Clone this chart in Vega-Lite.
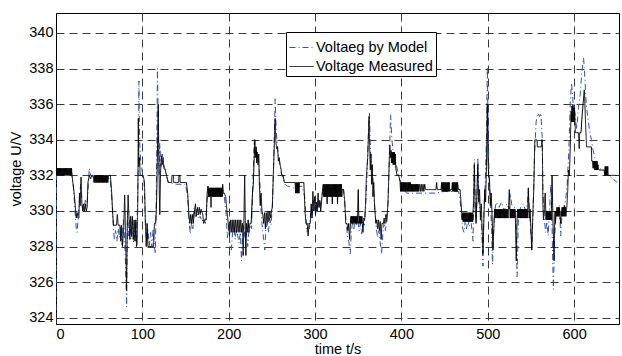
{
  "$schema": "https://vega.github.io/schema/vega-lite/v6.json",
  "width": 563,
  "height": 311,
  "autosize": {"type": "none"},
  "padding": {"left": 56, "top": 13, "right": 3, "bottom": 32},
  "background": "white",
  "config": {
    "font": "Liberation Sans",
    "view": {"stroke": "black", "strokeWidth": 1},
    "axis": {
      "labelFont": "Liberation Sans", "labelFontSize": 14.5, "labelColor": "black",
      "titleFont": "Liberation Sans", "titleFontSize": 14.5, "titleFontWeight": "normal", "titleColor": "black",
      "domainColor": "black", "grid": true, "gridColor": "#3a3a3a", "gridDash": [8, 5], "gridWidth": 1,
      "ticks": false, "labelPadding": 3
    },
    "legend": {
      "orient": "none", "legendX": 230, "legendY": 19, "padding": 3,
      "strokeColor": "black", "fillColor": "white",
      "symbolType": "stroke", "symbolSize": 576, "symbolStrokeWidth": 1,
      "labelFont": "Liberation Sans", "labelFontSize": 14.5, "labelColor": "black",
      "labelOffset": 2, "rowPadding": -3
    }
  },
  "datasets": {
    "model": [
      {"t":0,"v":323.7},{"t":0.6,"v":332.4},{"t":5,"v":332.3},{"t":10,"v":332.3},{"t":15,"v":332.2},{"t":18,"v":332.1},{"t":20,"v":331.5},{"t":22,"v":330.0},{"t":23.5,"v":329.0},{"t":24.5,"v":328.8},{"t":25.5,"v":329.5},{"t":27,"v":330.4},{"t":28.5,"v":331.5},{"t":30,"v":330.4},{"t":32,"v":330.0},{"t":34,"v":330.6},{"t":36,"v":330.3},{"t":37.5,"v":331.5},{"t":38.5,"v":332.4},{"t":40,"v":332.0},{"t":43,"v":331.9},{"t":50,"v":331.8},{"t":55,"v":331.8},{"t":60,"v":331.9},{"t":63,"v":331.7},{"t":64.5,"v":330.8},{"t":66,"v":329.5},{"t":67.5,"v":328.4},{"t":69,"v":328.9},{"t":70.5,"v":328.3},{"t":72,"v":329.0},{"t":73.5,"v":328.5},{"t":75,"v":329.2},{"t":76.5,"v":328.1},{"t":78,"v":329.5},{"t":79.5,"v":328.4},{"t":80.5,"v":327.0},{"t":81.8,"v":324.6},{"t":82.8,"v":330.0},{"t":84,"v":328.6},{"t":85.5,"v":329.5},{"t":87,"v":328.4},{"t":88.5,"v":329.4},{"t":90,"v":328.2},{"t":91.5,"v":329.3},{"t":93,"v":328.2},{"t":94.5,"v":330.5},{"t":95.5,"v":333.0},{"t":96,"v":337.3},{"t":96.8,"v":334.0},{"t":98,"v":332.8},{"t":100,"v":332.2},{"t":102,"v":331.6},{"t":103.5,"v":329.5},{"t":105,"v":328.3},{"t":106.5,"v":329.0},{"t":108,"v":328.0},{"t":109.5,"v":328.8},{"t":111,"v":328.0},{"t":112.5,"v":329.0},{"t":114,"v":328.0},{"t":115,"v":327.6},{"t":116.2,"v":331.0},{"t":117.5,"v":338.0},{"t":118.5,"v":335.0},{"t":119.3,"v":332.0},{"t":120.2,"v":333.8},{"t":121.5,"v":332.5},{"t":123,"v":333.2},{"t":124.5,"v":332.6},{"t":126,"v":332.4},{"t":128,"v":332.0},{"t":130,"v":331.6},{"t":140,"v":331.5},{"t":150,"v":331.5},{"t":152.5,"v":330.8},{"t":154,"v":329.5},{"t":155.5,"v":328.7},{"t":157,"v":329.4},{"t":158.5,"v":329.0},{"t":160,"v":330.2},{"t":161.5,"v":329.6},{"t":163,"v":330.1},{"t":165,"v":329.6},{"t":167,"v":329.7},{"t":169,"v":329.4},{"t":171,"v":329.6},{"t":173,"v":329.3},{"t":175,"v":330.6},{"t":176.5,"v":331.2},{"t":180,"v":331.0},{"t":185,"v":331.1},{"t":190,"v":331.0},{"t":193,"v":331.2},{"t":195,"v":330.8},{"t":197,"v":329.8},{"t":198.5,"v":328.5},{"t":200,"v":329.2},{"t":201.5,"v":328.0},{"t":203,"v":327.8},{"t":204.5,"v":328.8},{"t":206,"v":329.1},{"t":207.5,"v":328.4},{"t":209,"v":329.0},{"t":210.5,"v":328.6},{"t":212,"v":328.2},{"t":213.5,"v":328.8},{"t":214.8,"v":327.2},{"t":216,"v":328.5},{"t":217.5,"v":329.2},{"t":219,"v":328.4},{"t":220.5,"v":328.8},{"t":222,"v":328.0},{"t":223.5,"v":328.9},{"t":225,"v":329.2},{"t":226.5,"v":329.0},{"t":228,"v":331.5},{"t":229.5,"v":334.0},{"t":230.5,"v":333.2},{"t":231.5,"v":333.6},{"t":233,"v":332.8},{"t":234.5,"v":333.0},{"t":236,"v":331.8},{"t":237.5,"v":330.0},{"t":239,"v":329.0},{"t":240.5,"v":328.4},{"t":241.8,"v":327.8},{"t":243,"v":329.0},{"t":244.5,"v":329.3},{"t":246,"v":328.8},{"t":247.5,"v":329.6},{"t":249,"v":329.2},{"t":250.5,"v":330.2},{"t":252,"v":332.5},{"t":253.8,"v":336.3},{"t":255,"v":334.5},{"t":256.5,"v":333.6},{"t":258,"v":333.0},{"t":259.5,"v":332.5},{"t":261,"v":332.1},{"t":263,"v":331.8},{"t":265,"v":331.5},{"t":268,"v":331.4},{"t":275,"v":331.3},{"t":285,"v":331.4},{"t":288,"v":330.8},{"t":289.5,"v":329.6},{"t":290.7,"v":328.8},{"t":292,"v":329.3},{"t":293.5,"v":329.0},{"t":295,"v":329.9},{"t":296.5,"v":329.6},{"t":298,"v":330.6},{"t":299.5,"v":330.0},{"t":301,"v":330.5},{"t":302.5,"v":329.9},{"t":304,"v":330.6},{"t":305.5,"v":330.2},{"t":307,"v":330.6},{"t":308.5,"v":331.0},{"t":310,"v":331.3},{"t":320,"v":331.3},{"t":333,"v":331.2},{"t":334.5,"v":330.3},{"t":336,"v":329.4},{"t":337.5,"v":328.6},{"t":339,"v":328.3},{"t":340.8,"v":327.6},{"t":342,"v":328.8},{"t":343.5,"v":329.4},{"t":345,"v":329.0},{"t":346.5,"v":329.6},{"t":348,"v":329.2},{"t":349.5,"v":329.5},{"t":351,"v":328.9},{"t":352.5,"v":329.3},{"t":354,"v":328.7},{"t":355.5,"v":329.4},{"t":357,"v":329.2},{"t":358.5,"v":330.2},{"t":360,"v":331.8},{"t":361.5,"v":334.0},{"t":363,"v":335.5},{"t":364,"v":333.5},{"t":365,"v":332.6},{"t":366.5,"v":332.2},{"t":368,"v":331.0},{"t":369.5,"v":330.0},{"t":371,"v":329.0},{"t":372.5,"v":328.5},{"t":374,"v":328.9},{"t":375.5,"v":328.2},{"t":377,"v":327.6},{"t":378.5,"v":328.7},{"t":380,"v":329.4},{"t":381.5,"v":328.9},{"t":383,"v":329.6},{"t":384.5,"v":330.4},{"t":386,"v":333.0},{"t":387.5,"v":335.4},{"t":389,"v":334.0},{"t":390.5,"v":333.3},{"t":392,"v":333.0},{"t":394,"v":332.6},{"t":396,"v":332.2},{"t":398,"v":331.8},{"t":400,"v":331.5},{"t":403,"v":331.2},{"t":406,"v":331.0},{"t":420,"v":331.0},{"t":440,"v":331.0},{"t":450,"v":331.1},{"t":466,"v":331.1},{"t":468,"v":330.6},{"t":469.5,"v":329.8},{"t":471,"v":329.0},{"t":472.5,"v":328.8},{"t":474,"v":329.5},{"t":475.5,"v":329.0},{"t":477,"v":329.6},{"t":478.5,"v":329.1},{"t":480,"v":329.7},{"t":481.5,"v":329.0},{"t":483,"v":328.3},{"t":484.5,"v":332.9},{"t":485.5,"v":330.2},{"t":487,"v":329.6},{"t":488.5,"v":333.0},{"t":490,"v":330.4},{"t":491.5,"v":330.0},{"t":493,"v":329.0},{"t":494.5,"v":326.9},{"t":495.5,"v":330.0},{"t":497,"v":331.5},{"t":498.5,"v":334.0},{"t":499.5,"v":338.1},{"t":500.5,"v":334.5},{"t":501.5,"v":332.0},{"t":503,"v":330.5},{"t":504.5,"v":329.0},{"t":505.5,"v":327.0},{"t":506.5,"v":328.5},{"t":508,"v":330.0},{"t":510,"v":330.5},{"t":513,"v":330.2},{"t":516,"v":330.5},{"t":519,"v":330.0},{"t":522,"v":330.4},{"t":525,"v":330.1},{"t":526,"v":331.0},{"t":528,"v":330.3},{"t":531,"v":330.2},{"t":532.5,"v":329.5},{"t":534,"v":326.3},{"t":535.5,"v":329.6},{"t":538,"v":330.2},{"t":541,"v":330.4},{"t":544,"v":330.0},{"t":546,"v":330.4},{"t":547,"v":331.2},{"t":549,"v":329.5},{"t":551,"v":327.9},{"t":552.5,"v":330.0},{"t":554,"v":333.0},{"t":556,"v":335.0},{"t":558,"v":335.5},{"t":560,"v":335.3},{"t":561.5,"v":335.5},{"t":563,"v":334.2},{"t":564,"v":331.0},{"t":565.5,"v":329.6},{"t":567,"v":328.8},{"t":568.5,"v":329.4},{"t":570,"v":328.6},{"t":571.5,"v":330.0},{"t":573,"v":331.5},{"t":574.5,"v":329.0},{"t":576,"v":325.6},{"t":577.5,"v":328.5},{"t":579,"v":330.0},{"t":581,"v":329.8},{"t":583,"v":330.3},{"t":584.5,"v":328.6},{"t":586,"v":329.8},{"t":588,"v":330.2},{"t":590,"v":330.5},{"t":592,"v":331.5},{"t":594,"v":333.5},{"t":595.5,"v":336.0},{"t":597,"v":337.2},{"t":599,"v":336.0},{"t":601,"v":335.5},{"t":603,"v":334.6},{"t":605,"v":335.8},{"t":607,"v":336.5},{"t":609,"v":337.8},{"t":611,"v":338.6},{"t":612.5,"v":337.5},{"t":614,"v":336.0},{"t":616,"v":335.2},{"t":618,"v":334.5},{"t":620,"v":334.0},{"t":622,"v":333.4},{"t":624,"v":333.0},{"t":627,"v":332.6},{"t":630,"v":332.4},{"t":635,"v":332.2},{"t":640,"v":332.0},{"t":645,"v":331.8},{"t":650,"v":331.6}
    ],
    "measured": [
      {"t":0,"v":332.4},{"t":0.5,"v":332.0},{"t":1,"v":332.4},{"t":1.5,"v":332.0},{"t":2,"v":332.4},{"t":2.5,"v":332.0},{"t":3,"v":332.4},{"t":3.5,"v":332.0},{"t":4,"v":332.4},{"t":4.5,"v":332.0},{"t":5,"v":332.4},{"t":5.5,"v":332.0},{"t":6,"v":332.4},{"t":6.5,"v":332.0},{"t":7,"v":332.4},{"t":7.5,"v":332.0},{"t":8,"v":332.4},{"t":8.5,"v":332.0},{"t":9,"v":332.4},{"t":9.5,"v":332.0},{"t":10,"v":332.4},{"t":10.5,"v":332.0},{"t":11,"v":332.4},{"t":11.5,"v":332.0},{"t":12,"v":332.4},{"t":12.5,"v":332.0},{"t":13,"v":332.4},{"t":13.5,"v":332.0},{"t":14,"v":332.4},{"t":14.5,"v":332.0},{"t":15,"v":332.4},{"t":15.5,"v":332.0},{"t":16,"v":332.4},{"t":16.5,"v":332.0},{"t":17,"v":332.4},{"t":17.5,"v":332.0},{"t":18,"v":332.4},{"t":18.6,"v":332.0},{"t":19.5,"v":331.6},{"t":21,"v":331.0},{"t":22.5,"v":330.2},{"t":23.5,"v":329.6},{"t":24.5,"v":329.9},{"t":25.5,"v":329.6},{"t":26.5,"v":329.6},{"t":27.2,"v":331.0},{"t":28,"v":330.3},{"t":29,"v":331.9},{"t":30,"v":330.4},{"t":31,"v":330.0},{"t":32,"v":330.4},{"t":33,"v":330.0},{"t":34,"v":330.4},{"t":35,"v":330.0},{"t":36,"v":330.2},{"t":37,"v":331.6},{"t":38.5,"v":332.0},{"t":40,"v":331.8},{"t":41.5,"v":332.0},{"t":43,"v":332.0},{"t":44,"v":331.6},{"t":44.5,"v":332.0},{"t":45,"v":331.6},{"t":45.5,"v":332.0},{"t":46,"v":331.6},{"t":46.5,"v":332.0},{"t":47,"v":331.6},{"t":47.5,"v":332.0},{"t":48,"v":331.6},{"t":48.5,"v":332.0},{"t":49,"v":331.6},{"t":49.5,"v":332.0},{"t":50,"v":331.6},{"t":50.5,"v":332.0},{"t":51,"v":331.6},{"t":51.5,"v":332.0},{"t":52,"v":331.6},{"t":52.5,"v":332.0},{"t":53,"v":331.6},{"t":53.5,"v":332.0},{"t":54,"v":331.6},{"t":54.5,"v":332.0},{"t":55,"v":331.6},{"t":55.5,"v":332.0},{"t":56,"v":331.6},{"t":56.5,"v":332.0},{"t":57,"v":331.6},{"t":57.5,"v":332.0},{"t":58,"v":331.6},{"t":58.5,"v":332.0},{"t":59,"v":331.6},{"t":59.5,"v":332.0},{"t":60,"v":331.6},{"t":61,"v":332.0},{"t":63,"v":332.0},{"t":64.5,"v":331.0},{"t":65.5,"v":330.0},{"t":66.5,"v":329.2},{"t":70,"v":329.2},{"t":71,"v":329.8},{"t":72,"v":329.2},{"t":74,"v":329.2},{"t":75,"v":328.3},{"t":76,"v":329.2},{"t":77,"v":328.0},{"t":78.4,"v":329.0},{"t":79.5,"v":330.9},{"t":80.5,"v":329.0},{"t":81.7,"v":325.5},{"t":82.6,"v":329.2},{"t":83.5,"v":330.9},{"t":84.5,"v":329.7},{"t":85.5,"v":328.4},{"t":86.5,"v":329.7},{"t":87.5,"v":328.6},{"t":88.5,"v":329.7},{"t":89.5,"v":328.4},{"t":90.5,"v":329.5},{"t":91.5,"v":328.3},{"t":92.5,"v":329.5},{"t":93.3,"v":328.0},{"t":94,"v":328.2},{"t":94.8,"v":331.0},{"t":95.3,"v":335.2},{"t":96,"v":332.5},{"t":96.8,"v":333.0},{"t":97.5,"v":332.0},{"t":101,"v":332.0},{"t":102.5,"v":331.6},{"t":103.5,"v":329.3},{"t":104.5,"v":328.0},{"t":105.5,"v":329.3},{"t":106.5,"v":328.0},{"t":113,"v":328.0},{"t":114,"v":329.3},{"t":115.5,"v":329.3},{"t":116.5,"v":330.5},{"t":118.4,"v":336.0},{"t":119,"v":333.5},{"t":119.6,"v":331.2},{"t":120.2,"v":329.8},{"t":121,"v":332.0},{"t":122,"v":333.1},{"t":123,"v":332.6},{"t":124,"v":333.0},{"t":125,"v":332.4},{"t":126.5,"v":332.3},{"t":128,"v":332.0},{"t":130,"v":331.6},{"t":134,"v":331.6},{"t":134.3,"v":332.0},{"t":136,"v":332.0},{"t":136.3,"v":331.6},{"t":142,"v":331.6},{"t":142.3,"v":332.0},{"t":143.5,"v":332.0},{"t":143.8,"v":331.6},{"t":151,"v":331.6},{"t":152.5,"v":331.0},{"t":154,"v":329.7},{"t":155,"v":329.3},{"t":156,"v":329.8},{"t":157,"v":329.3},{"t":158,"v":329.8},{"t":159,"v":329.3},{"t":160,"v":329.8},{"t":161.5,"v":330.4},{"t":162.5,"v":329.7},{"t":164,"v":330.2},{"t":165,"v":329.8},{"t":166,"v":330.2},{"t":167,"v":329.8},{"t":168,"v":330.1},{"t":170,"v":329.8},{"t":171,"v":329.3},{"t":172.5,"v":329.5},{"t":174,"v":329.5},{"t":175,"v":331.0},{"t":176,"v":331.4},{"t":176.5,"v":330.8},{"t":177,"v":331.3},{"t":177.5,"v":330.8},{"t":178,"v":331.3},{"t":178.5,"v":330.8},{"t":179,"v":331.3},{"t":179.5,"v":330.2},{"t":180,"v":331.3},{"t":180.5,"v":330.8},{"t":181,"v":331.3},{"t":181.5,"v":330.8},{"t":182,"v":331.3},{"t":182.5,"v":330.8},{"t":183,"v":331.3},{"t":183.5,"v":330.8},{"t":184,"v":331.3},{"t":184.5,"v":330.8},{"t":185,"v":331.3},{"t":185.5,"v":330.8},{"t":186,"v":331.3},{"t":186.5,"v":330.8},{"t":187,"v":331.3},{"t":187.5,"v":330.8},{"t":188,"v":331.3},{"t":188.5,"v":330.8},{"t":189,"v":331.3},{"t":189.5,"v":330.8},{"t":190,"v":331.3},{"t":190.5,"v":330.8},{"t":191,"v":331.3},{"t":191.5,"v":330.8},{"t":192,"v":331.3},{"t":192.5,"v":330.8},{"t":193,"v":331.5},{"t":194,"v":331.0},{"t":195,"v":331.0},{"t":196.5,"v":330.8},{"t":198,"v":330.0},{"t":199.5,"v":329.3},{"t":201,"v":328.6},{"t":202,"v":329.5},{"t":203,"v":328.8},{"t":204,"v":329.5},{"t":205,"v":328.8},{"t":206,"v":329.5},{"t":207,"v":328.8},{"t":208,"v":329.5},{"t":209,"v":328.8},{"t":210,"v":329.5},{"t":211,"v":328.8},{"t":212,"v":329.5},{"t":213,"v":328.8},{"t":214,"v":329.5},{"t":215,"v":328.8},{"t":216,"v":329.3},{"t":216.8,"v":327.5},{"t":217.5,"v":329.3},{"t":218.5,"v":332.0},{"t":219.3,"v":328.8},{"t":219.9,"v":327.5},{"t":220.6,"v":329.3},{"t":221.5,"v":328.8},{"t":222.5,"v":329.5},{"t":223.5,"v":328.8},{"t":224.5,"v":329.3},{"t":226,"v":329.3},{"t":227.5,"v":331.0},{"t":228.5,"v":331.5},{"t":230.3,"v":334.0},{"t":231,"v":333.0},{"t":231.8,"v":333.6},{"t":232.5,"v":332.7},{"t":233.3,"v":333.3},{"t":234,"v":332.6},{"t":234.8,"v":333.2},{"t":235.5,"v":331.5},{"t":236.5,"v":330.3},{"t":237.5,"v":331.0},{"t":238.5,"v":330.0},{"t":239.5,"v":329.8},{"t":240.5,"v":329.3},{"t":241.5,"v":329.9},{"t":242.5,"v":329.0},{"t":243.5,"v":329.9},{"t":244.5,"v":329.3},{"t":245.5,"v":330.0},{"t":246.5,"v":329.4},{"t":247.5,"v":330.0},{"t":248.5,"v":329.6},{"t":249.5,"v":330.0},{"t":250.5,"v":330.2},{"t":252,"v":332.5},{"t":253.8,"v":335.2},{"t":254.5,"v":334.0},{"t":255.5,"v":333.5},{"t":256.5,"v":333.6},{"t":257.5,"v":332.8},{"t":258.5,"v":333.0},{"t":259.5,"v":332.6},{"t":260.5,"v":332.4},{"t":261.5,"v":332.0},{"t":263,"v":332.0},{"t":264.5,"v":331.6},{"t":277,"v":331.6},{"t":277.5,"v":331.0},{"t":278,"v":331.6},{"t":278.5,"v":331.0},{"t":279,"v":331.6},{"t":279.5,"v":331.0},{"t":280,"v":331.6},{"t":280.5,"v":331.0},{"t":281,"v":331.6},{"t":281.5,"v":331.0},{"t":282,"v":331.6},{"t":287,"v":331.6},{"t":288.5,"v":329.9},{"t":289.5,"v":329.3},{"t":291,"v":329.3},{"t":292,"v":328.6},{"t":293,"v":329.3},{"t":294.5,"v":329.3},{"t":295.5,"v":330.4},{"t":296.5,"v":329.6},{"t":297.5,"v":331.1},{"t":298.5,"v":330.0},{"t":299.5,"v":330.8},{"t":300.5,"v":329.8},{"t":301.5,"v":330.5},{"t":302.5,"v":330.0},{"t":303.5,"v":331.0},{"t":304.5,"v":330.2},{"t":305.5,"v":330.6},{"t":306.5,"v":330.0},{"t":307.5,"v":330.5},{"t":308.5,"v":331.1},{"t":309.5,"v":331.5},{"t":310,"v":330.8},{"t":310.5,"v":331.5},{"t":311,"v":330.8},{"t":311.5,"v":331.5},{"t":312,"v":330.8},{"t":312.5,"v":331.5},{"t":313,"v":330.8},{"t":313.5,"v":331.5},{"t":314,"v":330.4},{"t":314.5,"v":331.5},{"t":315,"v":330.8},{"t":315.5,"v":331.5},{"t":316,"v":330.8},{"t":316.5,"v":331.5},{"t":317,"v":330.8},{"t":317.5,"v":331.5},{"t":318,"v":330.8},{"t":318.5,"v":331.5},{"t":319,"v":330.8},{"t":319.5,"v":331.5},{"t":320,"v":330.4},{"t":320.5,"v":331.5},{"t":321,"v":330.8},{"t":321.5,"v":331.5},{"t":322,"v":330.8},{"t":322.5,"v":331.5},{"t":323,"v":330.8},{"t":323.5,"v":331.5},{"t":324,"v":330.8},{"t":324.5,"v":331.5},{"t":325,"v":330.8},{"t":325.5,"v":331.5},{"t":326,"v":330.4},{"t":326.5,"v":331.5},{"t":327,"v":330.8},{"t":327.5,"v":331.5},{"t":328,"v":330.8},{"t":328.5,"v":331.5},{"t":329,"v":330.8},{"t":329.5,"v":331.5},{"t":330,"v":330.8},{"t":330.5,"v":331.5},{"t":331,"v":330.8},{"t":331.5,"v":331.2},{"t":333,"v":331.2},{"t":334.5,"v":330.5},{"t":335.5,"v":329.3},{"t":337,"v":329.3},{"t":338,"v":328.9},{"t":339,"v":329.3},{"t":340,"v":328.4},{"t":341,"v":329.3},{"t":341.5,"v":329.7},{"t":342,"v":329.3},{"t":342.5,"v":329.7},{"t":343,"v":329.3},{"t":343.5,"v":329.7},{"t":344,"v":329.3},{"t":344.5,"v":329.7},{"t":345,"v":329.3},{"t":345.5,"v":329.7},{"t":346,"v":329.3},{"t":346.5,"v":329.7},{"t":347,"v":329.3},{"t":347.5,"v":329.7},{"t":348,"v":329.3},{"t":348.5,"v":329.7},{"t":349,"v":329.3},{"t":350,"v":331.2},{"t":350.8,"v":329.3},{"t":351.3,"v":329.7},{"t":351.8,"v":329.3},{"t":352.3,"v":329.7},{"t":352.8,"v":329.3},{"t":353.3,"v":329.7},{"t":353.8,"v":329.3},{"t":354.3,"v":329.7},{"t":354.8,"v":329.3},{"t":355.5,"v":328.8},{"t":356.5,"v":329.6},{"t":357.5,"v":329.5},{"t":358.5,"v":330.4},{"t":359.5,"v":332.0},{"t":361,"v":333.0},{"t":362.5,"v":335.3},{"t":363.3,"v":333.5},{"t":364,"v":332.3},{"t":364.8,"v":333.2},{"t":365.5,"v":331.5},{"t":366.3,"v":332.6},{"t":367,"v":330.8},{"t":368,"v":331.6},{"t":369,"v":330.2},{"t":370.5,"v":329.3},{"t":371.5,"v":329.5},{"t":372.5,"v":329.0},{"t":373.5,"v":329.5},{"t":374.5,"v":328.9},{"t":375.5,"v":329.4},{"t":376.5,"v":328.4},{"t":377.5,"v":329.3},{"t":379,"v":329.3},{"t":380,"v":329.6},{"t":381,"v":329.3},{"t":382,"v":329.8},{"t":383,"v":329.4},{"t":384.5,"v":330.5},{"t":386.5,"v":333.7},{"t":387.5,"v":333.0},{"t":388,"v":333.4},{"t":388.5,"v":332.7},{"t":389,"v":333.3},{"t":389.5,"v":332.7},{"t":390,"v":333.3},{"t":390.5,"v":332.6},{"t":391,"v":333.3},{"t":391.5,"v":332.6},{"t":392,"v":333.3},{"t":392.5,"v":332.6},{"t":393,"v":333.2},{"t":393.5,"v":332.4},{"t":395,"v":332.0},{"t":397,"v":332.0},{"t":398.5,"v":331.6},{"t":399,"v":331.1},{"t":399.5,"v":331.6},{"t":400,"v":331.1},{"t":400.5,"v":331.6},{"t":401,"v":331.1},{"t":401.5,"v":331.6},{"t":402,"v":331.1},{"t":402.5,"v":331.6},{"t":403,"v":331.1},{"t":403.5,"v":331.6},{"t":404,"v":331.1},{"t":404.5,"v":331.6},{"t":405,"v":331.1},{"t":405.5,"v":331.6},{"t":406,"v":331.1},{"t":406.5,"v":331.6},{"t":407,"v":331.1},{"t":407.5,"v":331.6},{"t":408,"v":331.1},{"t":408.5,"v":331.6},{"t":409,"v":331.1},{"t":409.5,"v":331.6},{"t":410,"v":331.1},{"t":410.5,"v":331.6},{"t":411,"v":331.1},{"t":411.5,"v":331.5},{"t":412,"v":331.1},{"t":412.5,"v":331.5},{"t":413,"v":331.1},{"t":413.5,"v":331.5},{"t":414,"v":331.1},{"t":414.5,"v":331.5},{"t":415,"v":331.1},{"t":415.5,"v":331.5},{"t":416,"v":331.1},{"t":416.5,"v":331.5},{"t":417,"v":331.1},{"t":417.5,"v":331.5},{"t":418,"v":331.1},{"t":418.5,"v":331.5},{"t":419,"v":331.1},{"t":419.5,"v":331.5},{"t":420,"v":331.1},{"t":421,"v":331.5},{"t":422,"v":331.1},{"t":423,"v":331.5},{"t":424,"v":331.1},{"t":425,"v":331.5},{"t":426,"v":331.1},{"t":427,"v":331.5},{"t":428,"v":331.2},{"t":440,"v":331.2},{"t":440.8,"v":331.6},{"t":441.5,"v":331.2},{"t":446,"v":331.2},{"t":446.5,"v":331.6},{"t":447,"v":331.1},{"t":447.5,"v":331.6},{"t":448,"v":331.1},{"t":448.5,"v":331.6},{"t":449,"v":331.1},{"t":449.5,"v":331.6},{"t":450,"v":331.1},{"t":450.5,"v":331.6},{"t":451,"v":331.1},{"t":451.5,"v":331.6},{"t":452,"v":331.1},{"t":452.5,"v":331.6},{"t":453,"v":331.1},{"t":453.5,"v":331.6},{"t":454,"v":331.1},{"t":454.5,"v":331.6},{"t":455,"v":331.1},{"t":455.5,"v":331.6},{"t":456,"v":331.1},{"t":457,"v":331.2},{"t":458.5,"v":331.2},{"t":459,"v":331.6},{"t":459.5,"v":331.1},{"t":460,"v":331.6},{"t":460.5,"v":331.1},{"t":461,"v":331.6},{"t":461.5,"v":331.1},{"t":462,"v":331.6},{"t":462.5,"v":331.1},{"t":463,"v":331.6},{"t":463.5,"v":331.1},{"t":464,"v":331.6},{"t":464.5,"v":331.1},{"t":465,"v":331.6},{"t":466,"v":331.2},{"t":468,"v":331.2},{"t":469,"v":330.5},{"t":470.5,"v":329.5},{"t":471,"v":329.9},{"t":471.5,"v":329.4},{"t":472,"v":329.9},{"t":472.5,"v":329.4},{"t":473,"v":329.9},{"t":473.5,"v":329.4},{"t":474,"v":329.9},{"t":474.5,"v":329.4},{"t":475,"v":329.9},{"t":475.5,"v":329.4},{"t":476,"v":329.9},{"t":476.5,"v":329.4},{"t":477,"v":329.9},{"t":477.5,"v":329.4},{"t":478,"v":329.9},{"t":478.5,"v":329.4},{"t":479,"v":329.9},{"t":479.5,"v":329.4},{"t":480,"v":329.9},{"t":480.5,"v":329.4},{"t":481,"v":329.9},{"t":481.5,"v":329.4},{"t":482,"v":329.9},{"t":482.5,"v":329.4},{"t":483.5,"v":330.5},{"t":484.5,"v":332.6},{"t":485.5,"v":330.0},{"t":486.5,"v":329.3},{"t":487.5,"v":331.0},{"t":488.5,"v":332.6},{"t":489.5,"v":330.5},{"t":490.5,"v":331.2},{"t":491.5,"v":329.5},{"t":492.5,"v":330.4},{"t":493.5,"v":329.0},{"t":494.5,"v":327.6},{"t":495.5,"v":329.5},{"t":496.5,"v":331.2},{"t":497.5,"v":330.5},{"t":498.5,"v":332.5},{"t":499.5,"v":336.0},{"t":500.2,"v":333.0},{"t":501,"v":332.0},{"t":502,"v":331.8},{"t":503,"v":330.3},{"t":504,"v":331.0},{"t":505,"v":329.8},{"t":506,"v":327.8},{"t":507,"v":329.0},{"t":508,"v":330.1},{"t":508.5,"v":329.6},{"t":509,"v":330.1},{"t":509.5,"v":329.6},{"t":510,"v":330.1},{"t":510.5,"v":329.6},{"t":511,"v":330.1},{"t":511.5,"v":329.6},{"t":512,"v":330.1},{"t":512.5,"v":329.6},{"t":513,"v":330.1},{"t":513.5,"v":329.6},{"t":514,"v":330.1},{"t":514.5,"v":329.6},{"t":515,"v":330.1},{"t":515.5,"v":329.6},{"t":516,"v":330.1},{"t":516.5,"v":329.6},{"t":517,"v":330.1},{"t":517.5,"v":329.6},{"t":518,"v":330.1},{"t":518.5,"v":329.6},{"t":519,"v":330.1},{"t":519.5,"v":329.6},{"t":520,"v":330.1},{"t":520.5,"v":329.6},{"t":521,"v":330.1},{"t":521.5,"v":329.6},{"t":522,"v":330.1},{"t":522.5,"v":329.6},{"t":523,"v":330.1},{"t":523.5,"v":329.6},{"t":524,"v":330.1},{"t":525,"v":331.2},{"t":526,"v":329.6},{"t":526.5,"v":330.1},{"t":527,"v":329.6},{"t":527.5,"v":330.1},{"t":528,"v":329.6},{"t":528.5,"v":330.1},{"t":529,"v":329.6},{"t":529.5,"v":330.1},{"t":530,"v":329.6},{"t":530.5,"v":330.1},{"t":531,"v":329.6},{"t":531.5,"v":330.1},{"t":532,"v":329.6},{"t":533,"v":327.2},{"t":534,"v":329.6},{"t":534.5,"v":330.1},{"t":535,"v":329.6},{"t":535.5,"v":330.1},{"t":536,"v":329.6},{"t":536.5,"v":330.1},{"t":537,"v":329.6},{"t":537.5,"v":330.1},{"t":538,"v":329.6},{"t":538.5,"v":330.1},{"t":539,"v":329.6},{"t":539.5,"v":330.1},{"t":540,"v":329.6},{"t":540.5,"v":330.1},{"t":541,"v":329.6},{"t":541.5,"v":330.1},{"t":542,"v":329.6},{"t":542.5,"v":330.1},{"t":543,"v":329.6},{"t":543.5,"v":330.1},{"t":544,"v":329.6},{"t":544.5,"v":330.1},{"t":545,"v":329.6},{"t":545.5,"v":330.1},{"t":546,"v":329.6},{"t":547,"v":331.3},{"t":548,"v":329.6},{"t":549,"v":330.1},{"t":550,"v":329.0},{"t":551,"v":327.8},{"t":552,"v":329.5},{"t":553.5,"v":331.5},{"t":554.5,"v":334.0},{"t":557,"v":334.0},{"t":557.5,"v":333.6},{"t":562,"v":333.6},{"t":562.5,"v":334.0},{"t":563.2,"v":334.0},{"t":563.8,"v":330.5},{"t":564.5,"v":329.5},{"t":565.5,"v":330.0},{"t":566.5,"v":331.0},{"t":567.5,"v":329.5},{"t":568,"v":330.0},{"t":568.5,"v":329.5},{"t":569,"v":330.0},{"t":569.5,"v":329.5},{"t":570,"v":330.0},{"t":570.5,"v":329.5},{"t":571,"v":330.0},{"t":571.5,"v":329.5},{"t":572,"v":330.0},{"t":572.5,"v":329.5},{"t":573,"v":330.0},{"t":573.5,"v":329.5},{"t":574.5,"v":332.0},{"t":575.5,"v":329.5},{"t":576.8,"v":327.2},{"t":577.5,"v":329.5},{"t":578,"v":330.0},{"t":578.5,"v":329.3},{"t":579,"v":330.0},{"t":579.5,"v":329.7},{"t":580,"v":330.2},{"t":580.5,"v":329.7},{"t":581,"v":330.2},{"t":581.5,"v":329.7},{"t":582,"v":330.2},{"t":582.5,"v":329.7},{"t":583,"v":330.2},{"t":583.5,"v":329.7},{"t":584.5,"v":329.3},{"t":585,"v":330.0},{"t":585.5,"v":329.7},{"t":586,"v":330.2},{"t":586.5,"v":329.7},{"t":587,"v":330.2},{"t":587.5,"v":329.7},{"t":588,"v":330.2},{"t":588.5,"v":329.7},{"t":589,"v":330.3},{"t":589.5,"v":329.7},{"t":590,"v":330.2},{"t":590.5,"v":329.7},{"t":591.5,"v":330.2},{"t":592.5,"v":331.0},{"t":593.5,"v":332.3},{"t":594.5,"v":332.0},{"t":595.5,"v":333.5},{"t":596.5,"v":335.6},{"t":597,"v":335.0},{"t":597.5,"v":335.9},{"t":598,"v":335.0},{"t":598.5,"v":336.0},{"t":599,"v":335.0},{"t":599.5,"v":335.8},{"t":600,"v":335.0},{"t":600.5,"v":335.8},{"t":601.5,"v":334.4},{"t":605,"v":334.4},{"t":606,"v":333.5},{"t":606.5,"v":334.4},{"t":608,"v":334.4},{"t":609.5,"v":335.5},{"t":611.8,"v":336.8},{"t":612.5,"v":336.0},{"t":613.5,"v":334.6},{"t":614.5,"v":333.6},{"t":620,"v":333.6},{"t":620.5,"v":332.8},{"t":621.5,"v":332.8},{"t":622,"v":332.4},{"t":622.5,"v":332.8},{"t":623,"v":332.4},{"t":623.5,"v":332.8},{"t":624,"v":332.3},{"t":624.5,"v":332.8},{"t":625,"v":332.3},{"t":625.5,"v":332.8},{"t":626,"v":332.3},{"t":626.5,"v":332.8},{"t":627,"v":332.3},{"t":627.5,"v":332.6},{"t":628.5,"v":332.3},{"t":635,"v":332.3},{"t":635.5,"v":332.0},{"t":636,"v":332.5},{"t":636.5,"v":332.0},{"t":637,"v":332.5},{"t":637.5,"v":332.0},{"t":638,"v":332.5},{"t":638.5,"v":332.0},{"t":639,"v":332.5},{"t":639.5,"v":332.0},{"t":649,"v":332.0}
    ]
  },
  "encoding": {
    "x": {
      "field": "t", "type": "quantitative",
      "scale": {"domain": [0, 652], "nice": false, "zero": false},
      "axis": {"values": [0, 100, 200, 300, 400, 500, 600], "title": "time t/s", "titlePadding": 2}
    },
    "y": {
      "field": "v", "type": "quantitative",
      "scale": {"domain": [323.65, 341.12], "nice": false, "zero": false},
      "axis": {"values": [324, 326, 328, 330, 332, 334, 336, 338, 340], "title": "voltage U/V", "titlePadding": 5}
    }
  },
  "layer": [
    {
      "data": {"name": "model"},
      "mark": {"type": "line", "strokeWidth": 1, "clip": true},
      "encoding": {
        "color": {
          "datum": "Voltaeg by Model",
          "scale": {"domain": ["Voltaeg by Model", "Voltage Measured"], "range": ["#3153b0", "#000000"]},
          "legend": {"title": null}
        },
        "strokeDash": {
          "datum": "Voltaeg by Model",
          "scale": {"domain": ["Voltaeg by Model", "Voltage Measured"], "range": [[6, 3, 1, 3], [1, 0]]},
          "legend": {"title": null}
        }
      }
    },
    {
      "data": {"name": "measured"},
      "mark": {"type": "line", "strokeWidth": 1, "clip": true},
      "encoding": {
        "color": {"datum": "Voltage Measured"},
        "strokeDash": {"datum": "Voltage Measured"}
      }
    }
  ]
}
